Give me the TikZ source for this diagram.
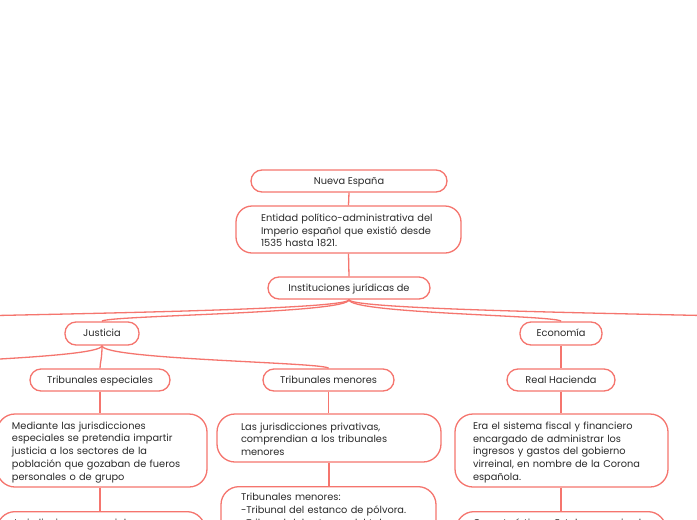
\documentclass[tikz,border=0pt]{standalone}
\usepackage{fontspec}
\setmainfont{Poppins}
\definecolor{mmred}{HTML}{F5756E}
\definecolor{mmtext}{HTML}{2A2A2A}
\newcommand{\mmline}[1]{\mbox{#1}}
\newcommand{\mmfirst}[1]{\rule{0pt}{#1}}
\tikzset{
  box/.style={draw=mmred, line width=1.3pt, fill=white, text=mmtext,
    font=\fontsize{9.8}{12.7}\selectfont, inner sep=0pt},
  pill/.style={box, rounded corners=11pt, minimum height=22pt, align=center,
    text height=7.5pt, text depth=1pt},
  para/.style={box, rounded corners=16pt, align=left},
  link/.style={draw=mmred, line width=1.3pt},
}
\begin{document}
\begin{tikzpicture}[x=1pt,y=-1pt]
\useasboundingbox (0,0) rectangle (697,520);
\fill[white] (0,0) rectangle (697,520);
\clip (0,0) rectangle (697,520);

% off-frame ends
\coordinate (offL1) at (-200,322);
\coordinate (offR1) at (900,322);
\coordinate (offL2) at (-150,369);

% nodes
\node[pill, minimum width=196pt] (nueva) at (349,181) {Nueva España};
\node[para, text width=175pt, inner xsep=25pt, minimum height=47pt] (entidad) at (348.5,229.5)
  {\mmline{\mmfirst{9.5pt}Entidad político-administrativa del}\\\mmline{Imperio español que existió desde}\\\mmline{1535 hasta 1821.}};
\node[pill, minimum width=162pt] (inst) at (349,288) {Instituciones jurídicas de};
\node[pill, minimum width=74pt, minimum height=23pt] (just) at (102,333.5) {Justicia};
\node[pill, minimum width=82pt, minimum height=23pt] (econ) at (561,333.5) {Economía};
\node[pill, minimum width=140pt] (tesp) at (100,380) {Tribunales especiales};
\node[pill, minimum width=131pt] (tmen) at (328.5,380) {Tribunales menores};
\node[pill, minimum width=108pt] (real) at (561,380) {Real Hacienda};

\node[para, rounded corners=18pt, text width=180pt, inner xsep=15pt, minimum height=73pt] (med) at (102,450.5)
  {\mmline{\mmfirst{11pt}Mediante las jurisdicciones}\\\mmline{especiales se pretendia impartir}\\\mmline{justicia a los sectores de la}\\\mmline{población que gozaban de fueros}\\\mmline{personales o de grupo}};
\node[para, rounded corners=18pt, text width=176pt, inner xsep=24pt, minimum height=48pt] (lasj) at (329,438)
  {\mmline{\mmfirst{10pt}Las jurisdicciones privativas,}\\\mmline{comprendian a los tribunales}\\\mmline{menores}};
\node[para, rounded corners=18pt, text width=177pt, inner xsep=18pt, minimum height=73pt] (era) at (561.5,450.5)
  {\mmline{\mmfirst{11pt}Era el sistema fiscal y financiero}\\\mmline{encargado de administrar los}\\\mmline{ingresos y gastos del gobierno}\\\mmline{virreinal, en nombre de la Corona}\\\mmline{española.}};

\node[para, rounded corners=18pt, text width=175pt, inner xsep=20pt, inner ysep=6.5pt, anchor=north] (tml) at (328.5,486)
  {\mmline{Tribunales menores:}\\\mmline{-Tribunal del estanco de pólvora.}\\\mmline{-Tribunal del estanco del tabaco.}\\\mmline{~}};
\node[para, rounded corners=18pt, text width=178pt, inner xsep=15pt, inner ysep=7pt, anchor=north] (bl) at (101,511)
  {\mmline{Jurisdicciones especiales:}\\\mmline{~}\\\mmline{~}};
\node[para, rounded corners=18pt, text width=176pt, inner xsep=17pt, inner ysep=7pt, anchor=north] (br) at (561,511)
  {\mmline{Características: Estaba organizada}\\\mmline{~}\\\mmline{~}};

% connectors
\draw[link] (nueva.south) -- (entidad.north);
\draw[link] (entidad.south) -- (inst.north);
\draw[link] (inst.south) .. controls +(0,14) and +(0,-6) .. (just.north);
\draw[link] (inst.south) .. controls +(0,14) and +(0,-6) .. (econ.north);
\draw[link] (inst.south) .. controls +(0,14) and +(0,-6) .. (offL1);
\draw[link] (inst.south) .. controls +(0,14) and +(0,-6) .. (offR1);
\draw[link] (just.south) .. controls +(0,14) and +(0,-6) .. (tesp.north);
\draw[link] (just.south) .. controls +(0,14) and +(0,-6) .. (tmen.north);
\draw[link] (just.south) .. controls +(0,14) and +(0,-6) .. (offL2);
\draw[link] (econ.south) -- (real.north);
\draw[link] (tesp.south) -- (tesp.south |- med.north);
\draw[link] (tmen.south) -- (tmen.south |- lasj.north);
\draw[link] (real.south) -- (real.south |- era.north);
\draw[link] (lasj.south) -- (lasj.south |- tml.north);
\draw[link] (med.south -| tesp.south) -- (tesp.south |- bl.north);
\draw[link] (era.south -| real.south) -- (real.south |- br.north);
\end{tikzpicture}
\end{document}
